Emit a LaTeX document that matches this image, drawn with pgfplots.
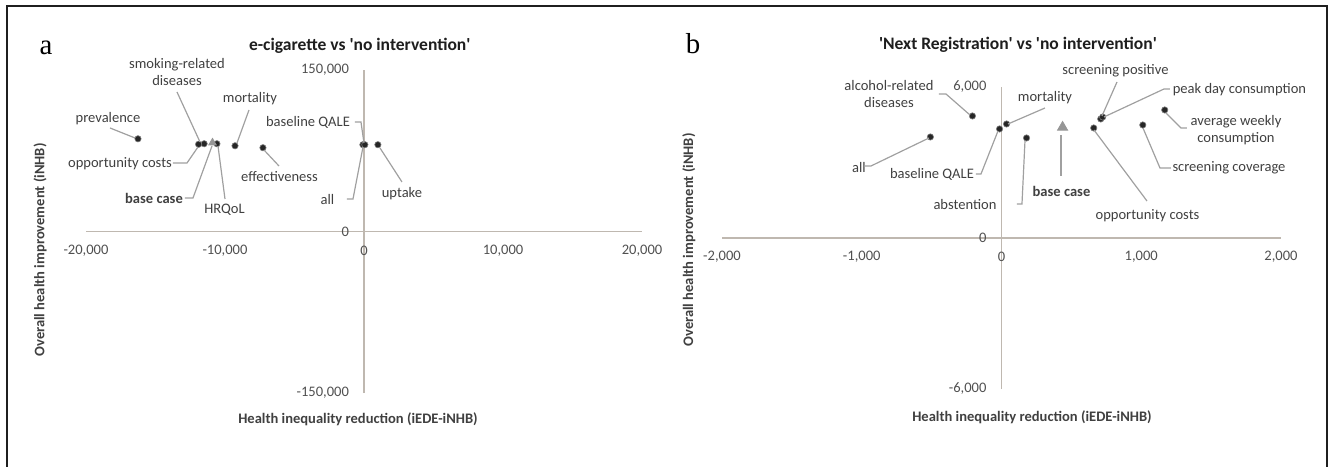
\documentclass[border=0pt]{standalone}
\usepackage{fontspec}
\setmainfont{Carlito}
\newfontfamily\serifletter{Liberation Serif}
\usepackage{pgfplots}
\pgfplotsset{compat=1.18}
\definecolor{axisgray}{RGB}{191,184,176}
\definecolor{leadgray}{RGB}{160,160,160}
\definecolor{labeltext}{RGB}{64,64,64}
\definecolor{ticktext}{RGB}{80,80,80}
\definecolor{basegray}{RGB}{150,150,150}
\definecolor{titletext}{RGB}{30,30,30}
\newcommand\lbl{\fontsize{7.3}{8.5}\selectfont}
\newcommand\q{\textquotesingle}
\pgfplotsset{
  quad/.style={
    scale only axis, anchor=south west, clip=false,
    axis lines=middle, scaled ticks=false,
    axis line style={draw=axisgray, line width=0.75bp, -},
    major tick length=0pt, tick style={draw=none},
    hide obscured x ticks=false, hide obscured y ticks=false,
    tick label style={font=\lbl, text=ticktext},
    x tick label style={anchor=center, yshift=-9.5bp},
    y tick label style={anchor=east, xshift=-4bp},
  },
  pts/.style={only marks, mark=*, mark size=1.6pt,
    mark options={fill=black!85, draw=black!50, line width=0.3pt}},
  base/.style={only marks, mark=triangle*, mark size=2.6pt,
    mark options={fill=basegray, draw=basegray}},
}
\begin{document}
\begin{tikzpicture}
% ---------------- panel a ----------------
\begin{axis}[quad, at={(43bp,37bp)}, width=278bp, height=161.5bp,
  xmin=-20000, xmax=20000, ymin=-150000, ymax=150000,
  xtick={-20000,-10000,0,10000,20000},
  xticklabels={{-20,000},{-10,000},0,{10,000},{20,000}},
  ytick={-150000,0,150000},
  yticklabels={{-150,000},0,{150,000}}]
\addplot[pts] coordinates {
  (-16260,86100)   % prevalence
  (-11500,81500)   % smoking-related diseases
  (-11900,81000)   % opportunity costs
  (-10580,81500)   % HRQoL
  (-9280,79600)    % mortality
  (-7270,77800)    % effectiveness
  (-80,80600)      % baseline QALE
  (60,80600)       % all
  (1000,80600)     % uptake
};
\addplot[base, mark size=2.2pt] coordinates {(-10900,82400)}; % base case
\end{axis}
% ---------------- panel b ----------------
\begin{axis}[quad, at={(361bp,39bp)}, width=279.5bp, height=151bp,
  xmin=-2000, xmax=2000, ymin=-6000, ymax=6000,
  xtick={-2000,-1000,0,1000,2000},
  xticklabels={{-2,000},{-1,000},0,{1,000},{2,000}},
  ytick={-6000,0,6000},
  yticklabels={{-6,000},0,{6,000}}]
\addplot[pts] coordinates {
  (-509,4014)   % all
  (-208,4848)   % alcohol-related diseases
  (-14,4332)    % baseline QALE
  (36,4530)     % mortality
  (179,3974)    % abstention
  (660,4371)    % opportunity costs
  (710,4729)    % screening positive
  (724,4808)    % peak day consumption
  (1011,4490)   % screening coverage
  (1168,5087)   % average weekly consumption
};
\addplot[base, mark size=2.9pt] coordinates {(437,4400)}; % base case
\end{axis}
% ---------------- annotations (pixel coordinates) ----------------
\begin{scope}[x=0.5bp, y=-0.5bp, shift={(0,233.5bp)}]
\draw[line width=1.1bp, black!88] (7,470) -- (7,6) -- (1327,6) -- (1327,470);
\node[anchor=base, font=\serifletter\fontsize{14.5}{16}\selectfont] at (46,55) {a};
\node[anchor=base, font=\serifletter\fontsize{14.5}{16}\selectfont] at (693,54) {b};
\node[anchor=base west, font=\bfseries\fontsize{8.8}{10}\selectfont, text=titletext] at (242,51) {e-cigarette vs \q no intervention\q};
\node[anchor=base west, font=\bfseries\fontsize{8.8}{10}\selectfont, text=titletext] at (872,50) {\q Next Registration\q\ vs \q no intervention\q};
\node[font=\bfseries\lbl, text=labeltext] at (358,419) {Health inequality reduction (iEDE-iNHB)};
\node[font=\bfseries\lbl, text=labeltext] at (1032,417) {Health inequality reduction (iEDE-iNHB)};
\node[font=\bfseries\lbl, text=labeltext, rotate=90] at (40,250) {Overall health improvement (iNHB)};
\node[font=\bfseries\lbl, text=labeltext, rotate=90] at (689,240) {Overall health improvement (iNHB)};
% panel a labels
\begin{scope}[every node/.style={font=\lbl, text=labeltext, inner sep=0pt}]
\node at (108,119) {prevalence};
\node[align=center] at (177,72) {smoking-related\\diseases};
\node at (120,164) {opportunity costs};
\node[font=\bfseries\lbl] at (154,198) {base case};
\node at (224.5,210) {HRQoL};
\node at (250,99) {mortality};
\node at (279.5,177) {effectiveness};
\node at (308,122) {baseline QALE};
\node at (327.5,200) {all};
\node at (402,194) {uptake};
% panel b labels
\node[align=center] at (889,94) {alcohol-related\\diseases};
\node at (859,168) {all};
\node at (932,174) {baseline QALE};
\node at (965,205) {abstention};
\node at (1045,98) {mortality};
\node[font=\bfseries\lbl] at (1061.5,191) {base case};
\node at (1115.5,71) {screening positive};
\node at (1239.5,90) {peak day consumption};
\node[align=center] at (1236,130) {average weekly\\consumption};
\node at (1229,168) {screening coverage};
\node at (1147.5,216) {opportunity costs};
\end{scope}
\begin{scope}[leadgray, line width=0.6bp]
% panel a leaders
\draw (110,128) -- (135,138);
\draw (177,92) -- (200,142);
\draw (173,163) -- (187,163) -- (198,147);
\draw (185,198) -- (193,198) -- (212,146);
\draw (225,199) -- (218,146);
\draw (249,110) -- (237,143);
\draw (279,166) -- (264,150);
\draw (355,122) -- (361,122) -- (364,143);
\draw (347,199) -- (353,199) -- (363,147);
\draw (402,182) -- (380,148);
% panel b leaders
\draw (939,94) -- (946,94) -- (970,115);
\draw (864,166) -- (871,166) -- (929,138);
\draw (976,174) -- (981,174) -- (998,131);
\draw (1017,204) -- (1022,204) -- (1025,141);
\draw (1045,108) -- (1008,124);
\draw (1061,176) -- (1061,135);
\draw (1117,82) -- (1102,116);
\draw (1170,89) -- (1164,89) -- (1104,117);
\draw (1187,128) -- (1181,128) -- (1166,113);
\draw (1171,168) -- (1160,168) -- (1143,128);
\draw (1147,201) -- (1094,130);
\end{scope}
\end{scope}
\pgfresetboundingbox
\useasboundingbox (0,0) rectangle (665bp,233.5bp);
\end{tikzpicture}
\end{document}
